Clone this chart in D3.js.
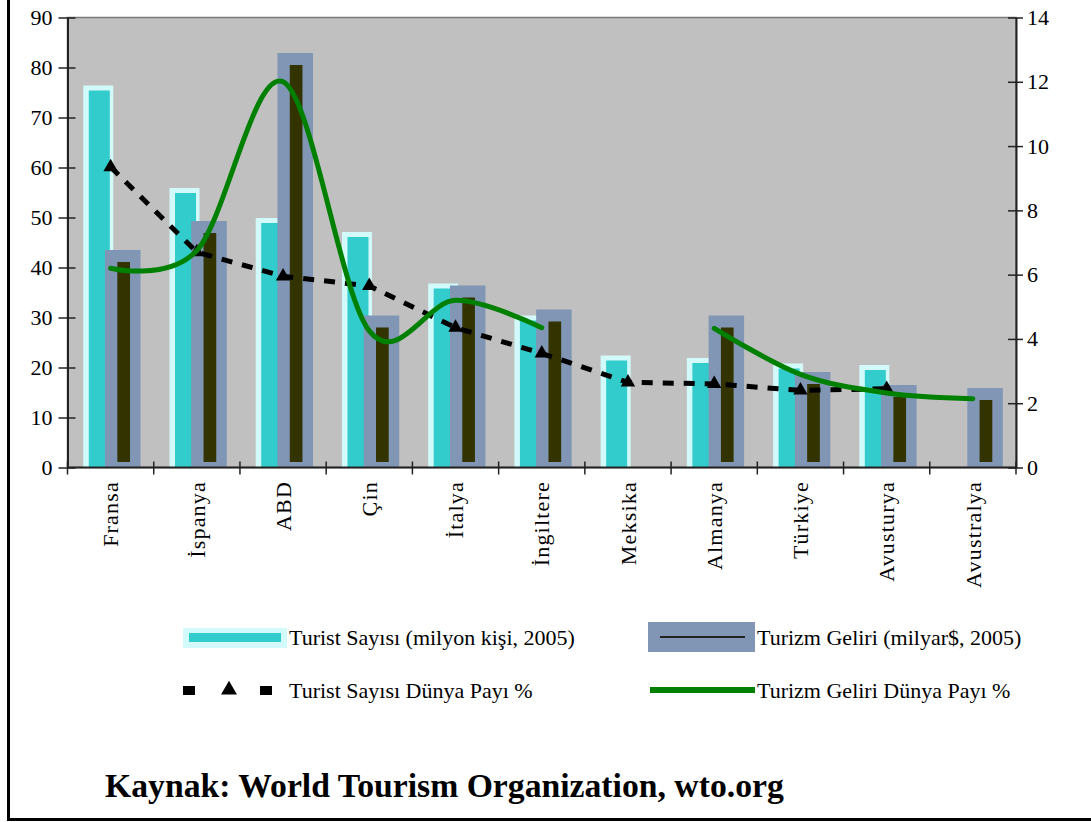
<!DOCTYPE html>
<html><head><meta charset="utf-8">
<script src="https://cdn.jsdelivr.net/npm/d3@7"></script>
<style>
body{margin:0;background:#fff}
svg{display:block}
text{font-family:"Liberation Serif","Times New Roman",serif;fill:#000}
</style>
</head><body>
<svg id="c" width="1091" height="822" font-family="Liberation Serif, Times New Roman, serif"></svg>
<script>
// ---- data ----
const categories = ["Fransa","İspanya","ABD","Çin","İtalya","İngiltere","Meksika","Almanya","Türkiye","Avusturya","Avustralya"];
const touristArrivals = [76.4, 55.9, 49.9, 47.1, 36.8, 30.4, 22.4, 21.9, 20.8, 20.5, null];   // milyon kişi
const tourismReceipts = [43.5, 49.3, 82.9, 30.4, 36.4, 31.6, null, 30.4, 19.1, 16.5, 15.9];  // milyar $
const arrivalsShare   = [9.35, 6.7, 5.95, 5.65, 4.35, 3.55, 2.65, 2.6, 2.4, 2.45, null];      // %
const receiptsShare   = [6.2, 6.75, 12.0, 4.25, 5.2, 4.35, null, 4.33, 2.9, 2.32, 2.14];       // %
const leftTicks  = [0,10,20,30,40,50,60,70,80,90];
const rightTicks = [0,2,4,6,8,10,12,14];
const legendLabels = ["Turist Sayısı (milyon kişi, 2005)","Turizm Geliri (milyar$, 2005)","Turist Sayısı Dünya Payı %","Turizm Geliri Dünya Payı %"];
const sourceText = "Kaynak: World Tourism Organization, wto.org";

// ---- layout ----
const FONT = '"Liberation Serif","Times New Roman",serif';
const svg = d3.select('#c');
const L = 67.5, R = 1016, T = 17.5, B = 467.5;
const x = d3.scaleBand().domain(categories).range([L, R]);
const bw = x.bandwidth();
const yL = d3.scaleLinear().domain([0, 90]).range([B, T]);
const yR = d3.scaleLinear().domain([0, 14]).range([B, T]);
const cx = c => x(c) + bw / 2;

const C = {bg:'#c0c0c0', pale:'#d2fafa', cyan:'#33cccc', steel:'#8096b4', dark:'#333300', green:'#008000'};

svg.append('rect').attr('width',1091).attr('height',822).attr('fill','#fff');
// page frame
svg.append('line').attr('x1',8.5).attr('x2',8.5).attr('y1',0).attr('y2',820).attr('stroke','#000').attr('stroke-width',3);
svg.append('line').attr('x1',7).attr('x2',1091).attr('y1',819.5).attr('y2',819.5).attr('stroke','#000').attr('stroke-width',3);

// plot background
svg.append('rect').attr('x',L).attr('y',T).attr('width',R-L).attr('height',B-T)
  .attr('fill',C.bg).attr('stroke','#7a7a7a').attr('stroke-width',1.5);

const rows = categories.map((c,i)=>({c, a:touristArrivals[i], r:tourismReceipts[i], as:arrivalsShare[i], rs:receiptsShare[i]}));

// Turist Sayısı bars
const ar = rows.filter(d=>d.a!=null);
svg.append('g').selectAll('rect').data(ar).join('rect')
  .attr('x',d=>x(d.c)+bw*0.183).attr('width',bw*0.348)
  .attr('y',d=>yL(d.a)).attr('height',d=>B-yL(d.a)).attr('fill',C.pale);
svg.append('g').selectAll('rect').data(ar).join('rect')
  .attr('x',d=>x(d.c)+bw*0.183+5.5).attr('width',bw*0.348-9)
  .attr('y',d=>yL(d.a)+5).attr('height',d=>B-yL(d.a)-5).attr('fill',C.cyan);

// Turizm Geliri bars
const rr = rows.filter(d=>d.r!=null);
svg.append('g').selectAll('rect').data(rr).join('rect')
  .attr('x',d=>x(d.c)+bw*0.435).attr('width',bw*0.412)
  .attr('y',d=>yL(d.r)).attr('height',d=>B-yL(d.r)).attr('fill',C.steel);
svg.append('g').selectAll('rect').data(rr).join('rect')
  .attr('x',d=>x(d.c)+bw*0.578).attr('width',bw*0.147)
  .attr('y',d=>yL(d.r)+12).attr('height',d=>B-5.5-yL(d.r)-12).attr('fill',C.dark);

// Turist Sayısı Dünya Payı (dashed + triangles)
const lineA = d3.line().defined(d=>d.as!=null).x(d=>cx(d.c)).y(d=>yR(d.as));
svg.append('path').datum(rows).attr('d',lineA).attr('fill','none')
  .attr('stroke','#000').attr('stroke-width',5).attr('stroke-dasharray','11,10');
svg.append('g').selectAll('path').data(rows.filter(d=>d.as!=null)).join('path')
  .attr('d',d3.symbol(d3.symbolTriangle,90)())
  .attr('transform',d=>`translate(${cx(d.c)},${yR(d.as)})`).attr('fill','#000');

// Turizm Geliri Dünya Payı (smooth green)
const lineR = d3.line().defined(d=>d.rs!=null).x(d=>cx(d.c)).y(d=>yR(d.rs)).curve(d3.curveCardinal.tension(0));
svg.append('path').datum(rows).attr('d',lineR).attr('fill','none')
  .attr('stroke',C.green).attr('stroke-width',5).attr('stroke-linecap','round');

// axes
const gL = svg.append('g').attr('transform',`translate(${L},0)`)
  .call(d3.axisLeft(yL).tickValues(leftTicks).tickSize(9).tickSizeOuter(0).tickPadding(6));
gL.attr('font-family',FONT).attr('font-size',null);
gL.select('.domain').attr('stroke','#222').attr('stroke-width',2);
gL.selectAll('.tick line').attr('x1',8).attr('stroke','#222').attr('stroke-width',1.5);
gL.selectAll('.tick text').attr('font-size',22).attr('font-family',FONT).attr('fill','#111');

const gR = svg.append('g').attr('transform',`translate(${R},0)`)
  .call(d3.axisRight(yR).tickValues(rightTicks).tickSize(7).tickSizeOuter(0).tickPadding(4));
gR.attr('font-family',FONT).attr('font-size',null);
gR.select('.domain').attr('stroke','#222').attr('stroke-width',2);
gR.selectAll('.tick line').attr('x1',-8).attr('stroke','#222').attr('stroke-width',1.5);
gR.selectAll('.tick text').attr('font-size',22).attr('font-family',FONT).attr('fill','#111');

// category axis
svg.append('line').attr('x1',L).attr('x2',R).attr('y1',B).attr('y2',B).attr('stroke','#222').attr('stroke-width',2);
const bounds = categories.map(c=>x(c)).concat([R]);
svg.append('g').selectAll('line').data(bounds).join('line')
  .attr('x1',d=>d).attr('x2',d=>d).attr('y1',B-6).attr('y2',B+7).attr('stroke','#222').attr('stroke-width',1.5);
svg.append('g').selectAll('text').data(categories).join('text')
  .attr('transform',d=>`translate(${cx(d)},481) rotate(-90)`)
  .attr('text-anchor','end').attr('dy','0.35em').attr('font-size',22)
  .attr('font-family',FONT).attr('letter-spacing',1.2).text(d=>d);

// legend
const lg = svg.append('g');
lg.append('rect').attr('x',183).attr('y',628).attr('width',104).attr('height',20).attr('fill',C.pale);
lg.append('rect').attr('x',189).attr('y',633).attr('width',92).attr('height',9).attr('fill',C.cyan);
lg.append('rect').attr('x',648).attr('y',622).attr('width',107).attr('height',30).attr('fill',C.steel);
lg.append('line').attr('x1',660).attr('x2',745).attr('y1',637).attr('y2',637).attr('stroke','#222').attr('stroke-width',2);
lg.append('rect').attr('x',183).attr('y',686).attr('width',12).attr('height',9).attr('fill','#000');
lg.append('path').attr('d',d3.symbol(d3.symbolTriangle,110)()).attr('transform','translate(229,690)').attr('fill','#000');
lg.append('rect').attr('x',260).attr('y',686).attr('width',12).attr('height',9).attr('fill','#000');
lg.append('line').attr('x1',650).attr('x2',755).attr('y1',690).attr('y2',690).attr('stroke',C.green).attr('stroke-width',6);
const lpos = [[289,637],[757,637],[289,690],[757,690]];
lg.selectAll('text').data(legendLabels).join('text')
  .attr('x',(d,i)=>lpos[i][0]).attr('y',(d,i)=>lpos[i][1]).attr('dy','0.35em')
  .attr('font-size',22).attr('font-family',FONT).text(d=>d);

// source
svg.append('text').attr('x',105).attr('y',797).attr('font-size',33.7).attr('font-weight','bold')
  .attr('font-family',FONT).text(sourceText);
</script>
</body></html>
